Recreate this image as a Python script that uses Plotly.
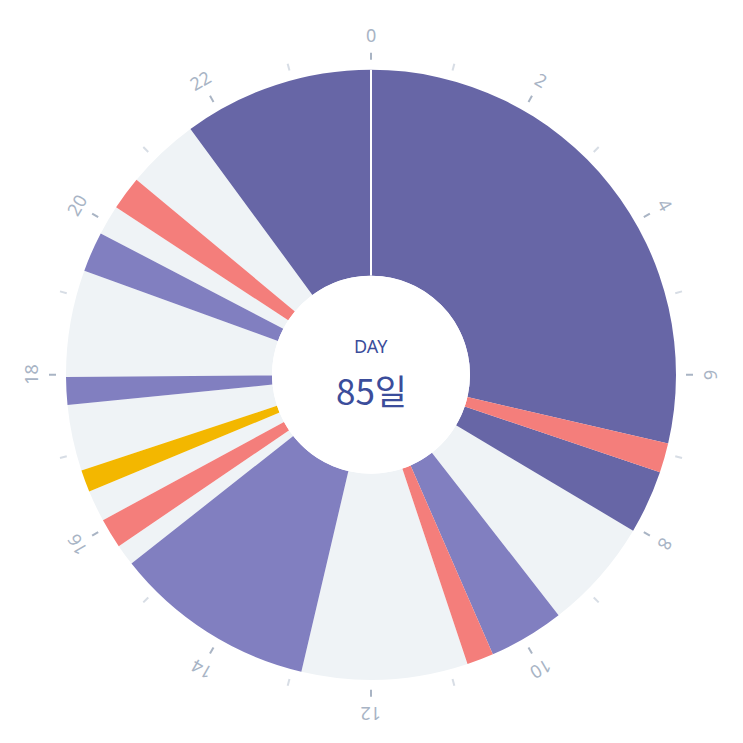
import math
import plotly.graph_objects as go

# ---- data (hours of a 24h day) ----
seg_start = [0.0, 6.87, 7.245, 8.05, 9.47, 10.43, 10.77, 12.88, 15.45, 15.72,
             16.1, 16.5, 16.78, 17.62, 17.97, 19.33, 19.84, 20.22, 20.65, 21.58]
seg_end = [6.87, 7.245, 8.05, 9.47, 10.43, 10.77, 12.88, 15.45, 15.72, 16.1,
           16.5, 16.78, 17.62, 17.97, 19.33, 19.84, 20.22, 20.65, 21.58, 24.0]
seg_kind = ["수면", "수유", "수면", "깨어있음", "놀이", "수유", "깨어있음", "놀이", "깨어있음", "수유",
            "깨어있음", "기저귀", "깨어있음", "놀이", "깨어있음", "놀이", "깨어있음", "수유", "깨어있음", "수면"]
kind_order = ["깨어있음", "수면", "놀이", "수유", "기저귀"]
kind_color = {"수면": "#6766a6", "놀이": "#817fc0", "수유": "#f47e7b",
              "기저귀": "#f3b700", "깨어있음": "#eff3f6"}
tick_hours = list(range(24))
label_hours = list(range(0, 24, 2))
center_title = "DAY"
center_value = "85일"

# ---- geometry / style ----
W = H = 727                  # page body has an 8px margin
CX, CY = 363, 360.3          # centre in paper px (y from bottom)
R_POLAR = 325
R_HOLE = 99
def rr(px):
    return (px - R_HOLE) / (R_POLAR - R_HOLE)
BAR_R = rr(305)
TICK_R0, TICK_R1 = rr(315), rr(322)
LABEL_R = 340
DEG = 360 / 24

fig = go.Figure()
for kind in kind_order:
    idx = [i for i, k in enumerate(seg_kind) if k == kind]
    fig.add_trace(go.Barpolar(
        theta=[(seg_start[i] + seg_end[i]) / 2 * DEG for i in idx],
        width=[(seg_end[i] - seg_start[i]) * DEG for i in idx],
        r=[BAR_R] * len(idx), base=0,
        marker=dict(color=kind_color[kind], line=dict(width=0)),
        name=kind, hoverinfo="skip"))

# day boundary line at 0h
fig.add_trace(go.Scatterpolar(r=[0, BAR_R], theta=[0, 0], mode="lines",
                              line=dict(color="#ffffff", width=2), hoverinfo="skip"))

# tick marks
for even, col in [(False, "#d7dde5"), (True, "#a9b4c4")]:
    rs, ts = [], []
    for h in tick_hours:
        if (h % 2 == 0) == even:
            rs += [TICK_R0, TICK_R1, None]
            ts += [h * DEG, h * DEG, None]
    fig.add_trace(go.Scatterpolar(r=rs, theta=ts, mode="lines",
                                  line=dict(color=col, width=2), hoverinfo="skip"))

annotations = []
for h in label_hours:
    a = math.radians(h * DEG)
    ang = h * DEG
    if ang > 180:
        ang -= 360
    annotations.append(dict(
        x=(CX + LABEL_R * math.sin(a)) / W, y=(CY + LABEL_R * math.cos(a)) / H,
        xref="paper", yref="paper", text=str(h), showarrow=False,
        textangle=ang, xanchor="center", yanchor="middle",
        font=dict(size=18, color="#a8b4c5", family="Noto Sans")))
annotations.append(dict(x=CX / W, y=(CY + 29) / H, xref="paper", yref="paper",
                        text=center_title, showarrow=False,
                        font=dict(size=18, color="#3b4d9b", family="Noto Sans, Noto Sans CJK KR")))
annotations.append(dict(x=CX / W, y=(CY - 15) / H, xref="paper", yref="paper",
                        text=center_value, showarrow=False,
                        font=dict(size=35, color="#3b4d9b", family="Noto Sans CJK KR, Noto Sans")))

fig.update_layout(
    width=W, height=H, margin=dict(l=0, r=0, t=0, b=0),
    paper_bgcolor="#ffffff", plot_bgcolor="#ffffff", showlegend=False,
    annotations=annotations,
    polar=dict(
        domain=dict(x=[(CX - R_POLAR) / W, (CX + R_POLAR) / W],
                    y=[(CY - R_POLAR) / H, (CY + R_POLAR) / H]),
        hole=R_HOLE / R_POLAR, bgcolor="rgba(0,0,0,0)",
        radialaxis=dict(visible=False, range=[0, 1]),
        angularaxis=dict(rotation=90, direction="clockwise", showgrid=False,
                         showline=False, showticklabels=False, ticks=""),
    ),
)
fig.write_html("out.html")
